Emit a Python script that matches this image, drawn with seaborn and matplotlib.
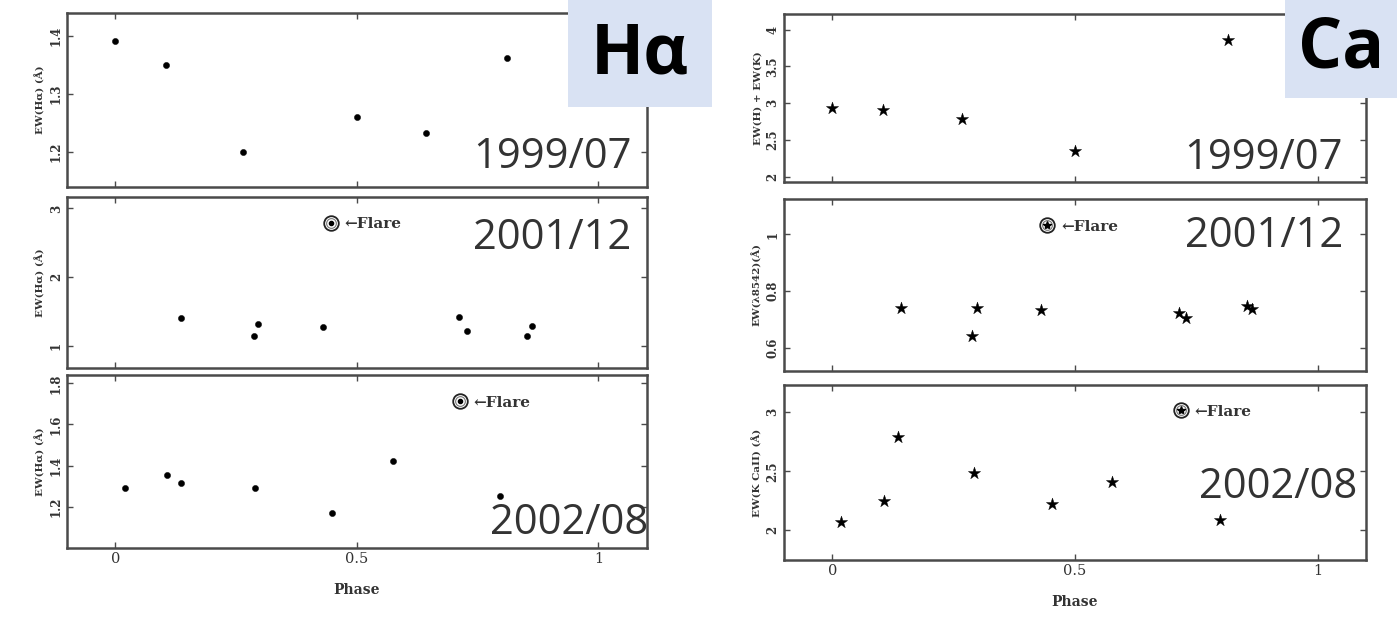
import matplotlib
matplotlib.use("Agg")
import matplotlib.pyplot as plt
import seaborn as sns
import pandas as pd
from matplotlib.lines import Line2D
from matplotlib.legend_handler import HandlerTuple
from matplotlib.patches import Rectangle

# ---------------- data ----------------
ha_1999_phase = [0.0, 0.104, 0.265, 0.5, 0.643, 0.811]
ha_1999_ew = [1.392, 1.35, 1.20, 1.261, 1.233, 1.362]
ha_2001_phase = [0.136, 0.286, 0.295, 0.429, 0.711, 0.728, 0.853, 0.862]
ha_2001_ew = [1.41, 1.15, 1.32, 1.28, 1.42, 1.22, 1.15, 1.29]
ha_2002_phase = [0.019, 0.106, 0.135, 0.29, 0.448, 0.574, 0.797]
ha_2002_ew = [1.29, 1.355, 1.313, 1.29, 1.171, 1.422, 1.252]

ca_1999_phase = [0.0, 0.105, 0.268, 0.5, 0.816]
ca_1999_ew = [2.94, 2.905, 2.792, 2.348, 3.855]
ca_2001_phase = [0.142, 0.287, 0.299, 0.43, 0.714, 0.728, 0.854, 0.865]
ca_2001_ew = [0.741, 0.641, 0.741, 0.733, 0.724, 0.706, 0.749, 0.739]
ca_2002_phase = [0.019, 0.106, 0.136, 0.291, 0.452, 0.576, 0.799]
ca_2002_ew = [2.065, 2.246, 2.793, 2.487, 2.218, 2.405, 2.085]

epochs = ["1999/07", "2001/12", "2002/08"]
ha_ylabels = ["EW(Hα) (Å)", "EW(Hα) (Å)", "EW(Hα) (Å)"]
ca_ylabels = ["EW(H) + EW(K)", "EW(λ8542)(Å)", "EW(K CaII) (Å)"]
ha_yticks = [[1.2, 1.3, 1.4], [1, 2, 3], [1.2, 1.4, 1.6, 1.8]]
ca_yticks = [[2, 2.5, 3, 3.5, 4], [0.6, 0.8, 1], [2, 2.5, 3]]
ha_ylims = [(1.14, 1.44), (0.68, 3.16), (1.0, 1.84)]
ca_ylims = [(1.93, 4.21), (0.52, 1.126), (1.745, 3.232)]
xticks = [0, 0.5, 1]
xtick_labels = ["0", "0.5", "1"]
panel_titles = ["Hα", "Ca"]
flare_label = "←Flare"

# ---------------- style ----------------
sns.set_theme(style="white")
plt.rcParams["font.family"] = ["DejaVu Sans"]

fig = plt.figure(figsize=(13.97, 6.19), dpi=100)

left_pos = [(0.048, 0.698, 0.415, 0.281),
            (0.048, 0.405, 0.415, 0.276),
            (0.048, 0.115, 0.415, 0.279)]
right_pos = [(0.561, 0.706, 0.417, 0.271),
             (0.561, 0.401, 0.417, 0.278),
             (0.561, 0.095, 0.417, 0.283)]

frame_col = "#4a4a4a"
year_col = "#333333"

ha_data = [(ha_1999_phase, ha_1999_ew), (ha_2001_phase, ha_2001_ew), (ha_2002_phase, ha_2002_ew)]
ca_data = [(ca_1999_phase, ca_1999_ew), (ca_2001_phase, ca_2001_ew), (ca_2002_phase, ca_2002_ew)]

ha_year_pos = [(0.974, 0.11), (0.974, 0.696), (1.003, 0.08)]
ca_year_pos = [(0.959, 0.077), (0.96, 0.72), (0.985, 0.354)]
ha_flare = {1: (0.451, 0.843), 2: (0.674, 0.84)}
ca_flare = {1: (0.449, 0.837), 2: (0.678, 0.848)}


def style_axes(ax, yticks, ylim, ylabel, bottom):
    ax.set_xlim(-0.1, 1.1)
    ax.set_ylim(*ylim)
    ax.set_xticks(xticks)
    ax.set_yticks(yticks)
    ax.set_yticklabels([f"{t:g}" for t in yticks], rotation=90, va="center",
                       family="DejaVu Serif", fontsize=8.5, fontweight="bold", color="#333")
    ax.tick_params(direction="in", length=4, width=1.0, color=frame_col,
                   top=True, right=True, bottom=True, left=True, pad=3)
    if bottom:
        ax.set_xticklabels(xtick_labels, family="DejaVu Serif", fontsize=10.5, color="#333")
        ax.set_xlabel("Phase", family="DejaVu Serif", fontsize=10, fontweight="bold",
                      color="#333", labelpad=12)
    else:
        ax.set_xticklabels([])
        ax.set_xlabel("")
    ax.set_ylabel(ylabel, family="DejaVu Serif", fontsize=7.5, fontweight="bold",
                  color="#333", labelpad=3)
    for sp in ax.spines.values():
        sp.set_visible(True)
        sp.set_color(frame_col)
        sp.set_linewidth(1.8)


def flare_key(ax, pos, inner_marker, inner_size):
    ring = Line2D([], [], marker="o", linestyle="none", markersize=10.5,
                  markerfacecolor="none", markeredgecolor="#222", markeredgewidth=1.3)
    ring2 = Line2D([], [], marker="o", linestyle="none", markersize=7,
                   markerfacecolor="none", markeredgecolor="#777", markeredgewidth=0.8)
    dot = Line2D([], [], marker=inner_marker, linestyle="none", markersize=inner_size,
                 color="black")
    leg = ax.legend([(ring, ring2, dot)], [flare_label],
                    handler_map={tuple: HandlerTuple(ndivide=1, pad=0)},
                    loc="center left", bbox_to_anchor=(pos[0] - 0.012, pos[1]),
                    frameon=False, handlelength=1.2, handletextpad=0.3,
                    borderpad=0, borderaxespad=0,
                    prop={"family": "DejaVu Serif", "weight": "bold", "size": 11})
    for t in leg.get_texts():
        t.set_color("#333")


for i in range(3):
    ax = fig.add_axes(left_pos[i])
    df = pd.DataFrame({"phase": ha_data[i][0], "ew": ha_data[i][1]})
    sns.scatterplot(data=df, x="phase", y="ew", ax=ax, marker="o", s=20,
                    color="black", edgecolor="black", linewidth=0.3, legend=False)
    style_axes(ax, ha_yticks[i], ha_ylims[i], ha_ylabels[i], bottom=(i == 2))
    if i in ha_flare:
        flare_key(ax, ha_flare[i], "o", 3)
    ax.text(ha_year_pos[i][0], ha_year_pos[i][1], epochs[i], transform=ax.transAxes,
            ha="right", va="baseline", family="Open Sans", fontsize=30, color=year_col)

    ax = fig.add_axes(right_pos[i])
    df = pd.DataFrame({"phase": ca_data[i][0], "ew": ca_data[i][1]})
    sns.scatterplot(data=df, x="phase", y="ew", ax=ax, marker="*", s=85,
                    color="black", edgecolor="black", linewidth=0.3, legend=False)
    style_axes(ax, ca_yticks[i], ca_ylims[i], ca_ylabels[i], bottom=(i == 2))
    if i in ca_flare:
        flare_key(ax, ca_flare[i], "*", 6)
    ax.text(ca_year_pos[i][0], ca_year_pos[i][1], epochs[i], transform=ax.transAxes,
            ha="right", va="baseline", family="Open Sans", fontsize=30, color=year_col)

box_col = "#d9e2f3"
fig.add_artist(Rectangle((568 / 1397, 1 - 107 / 619), (712 - 568) / 1397, 107 / 619,
                         transform=fig.transFigure, facecolor=box_col, edgecolor="none",
                         zorder=5))
fig.text((568 + 712) / 2 / 1397, 1 - 55 / 619, panel_titles[0], ha="center", va="center",
         family="Open Sans", fontweight="bold", fontsize=50, color="black", zorder=6)
fig.add_artist(Rectangle((1285 / 1397, 1 - 98 / 619), (1397 - 1285) / 1397, 98 / 619,
                         transform=fig.transFigure, facecolor=box_col, edgecolor="none",
                         zorder=5))
fig.text((1285 + 1397) / 2 / 1397, 1 - 50 / 619, panel_titles[1], ha="center", va="center",
         family="Open Sans", fontweight="bold", fontsize=50, color="black", zorder=6)

fig.savefig("out.png", dpi=100)
